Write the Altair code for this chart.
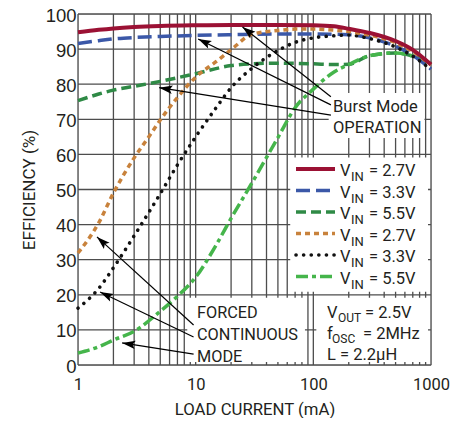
import math
import altair as alt
import pandas as pd

W, H = 353, 351
NARROW = "Roboto, Liberation Sans, sans-serif"
REG = "Liberation Sans, Arial, sans-serif"
TXT = "#231f20"

# ---------------- data ----------------
# Burst Mode operation
I_b27 = [1, 1.5, 2, 3, 5, 10, 20, 50, 100, 150, 200, 300, 500, 700, 1000]
E_b27 = [94.8, 95.5, 95.9, 96.3, 96.6, 96.8, 96.9, 96.9, 96.8, 96.5, 95.8, 94.6, 92.3, 89.8, 85.6]

I_b33 = [1, 1.5, 2, 3, 5, 10, 20, 50, 100, 200, 300, 500, 700, 1000]
E_b33 = [91.6, 92.4, 92.9, 93.3, 93.6, 93.9, 94.1, 94.3, 94.3, 94.1, 93.2, 90.8, 88.2, 84.3]

I_b55 = [1, 1.5, 2, 3, 5, 10, 20, 30, 50, 100, 150, 200, 300, 500, 700, 1000]
E_b55 = [75.3, 77.2, 78.3, 79.4, 80.8, 83.0, 85.3, 85.8, 86.0, 85.8, 85.6, 85.7, 88.1, 88.9, 88.0, 85.9]

# Forced continuous mode
I_f27 = [1, 1.5, 2, 3, 4, 5, 7, 10, 15, 20, 30, 50, 70, 100, 150, 200, 300, 500, 700, 1000]
E_f27 = [31.9, 40.5, 49.0, 59.0, 65.0, 69.8, 76.2, 82.0, 86.5, 89.8, 94.2, 95.3, 95.7, 95.7, 95.4, 95.0, 94.0, 91.8, 89.3, 85.5]

I_f33 = [1, 1.5, 2, 3, 4, 5, 7, 10, 15, 20, 30, 50, 70, 100, 150, 200, 300, 500, 700, 1000]
E_f33 = [16.2, 21.8, 27.7, 36.8, 43.5, 48.8, 57.0, 65.0, 73.4, 79.0, 84.5, 89.6, 91.9, 93.2, 93.8, 94.0, 93.0, 90.6, 88.0, 84.2]

I_f55 = [1, 1.5, 2, 3, 5, 7, 10, 15, 20, 30, 50, 70, 100, 150, 200, 300, 500, 700, 1000]
E_f55 = [3.4, 5.2, 7.1, 9.6, 15.3, 19.6, 25.0, 34.3, 41.8, 51.8, 64.8, 73.3, 78.6, 83.5, 85.6, 88.1, 88.9, 88.0, 85.9]

legend_labels = ["2.7V", "3.3V", "5.5V", "2.7V", "3.3V", "5.5V"]

x_ticks = [1, 10, 100, 1000]
y_ticks = [0, 10, 20, 30, 40, 50, 60, 70, 80, 90, 100]
grid_x = [1, 2, 3, 4, 5, 6, 7, 8, 9, 10, 20, 30, 40, 50, 60, 70, 80, 90,
          100, 200, 300, 400, 500, 600, 700, 800, 900, 1000]
grid_y = y_ticks

# annotation arrows (tail -> tip), in data units
arrow_tail_I = [141, 141, 141, 9.6, 9.6, 9.6]
arrow_tail_E = [76.4, 74.1, 71.2, 11.4, 8.0, 3.1]
arrow_tip_I = [25, 10.5, 4.9, 1.45, 1.54, 2.37]
arrow_tip_E = [96.3, 92.9, 79.0, 36.5, 20.8, 6.3]

# white label boxes: (I0, I1, E0, E1, inset)
box_I0 = [60, 100, 8, 135]
box_I1 = [1000, 1000, 90, 880]
box_E0 = [20, 0, 0, 64.7]
box_E1 = [60, 20, 20, 77.5]
box_inset = [3, 3, 3, 0]

# ---------------- chart ----------------
xs = alt.Scale(type="log", domain=[1, 1000])
ys = alt.Scale(domain=[0, 100])
xaxis = alt.Axis(values=x_ticks, title="LOAD CURRENT (mA)", grid=False, ticks=False,
                 domain=False, labelFont=NARROW, labelFontSize=16.5, labelColor=TXT,
                 labelPadding=11, labelFlush=False, titleFont=NARROW, titleFontSize=16.75,
                 titleFontWeight="normal", titleColor=TXT, titlePadding=9,
                 format="d")
yaxis = alt.Axis(values=y_ticks, title="EFFICIENCY (%)", grid=False, ticks=False,
                 domain=False, labelFont=REG, labelFontSize=18.5, labelColor=TXT,
                 labelPadding=2, labelFlush=False, labelBaseline="alphabetic",
                 labelOffset=7, titleFont=NARROW, titleFontSize=17,
                 titleFontWeight="normal", titleColor=TXT, titlePadding=7)


def X(f="I"):
    return alt.X(f"{f}:Q", scale=xs, axis=xaxis)


def Y(f="E"):
    return alt.Y(f"{f}:Q", scale=ys, axis=yaxis)


def px(i):
    return W * math.log10(i) / 3


def py(e):
    return H * (1 - e / 100)


one = pd.DataFrame({"a": [0]})
layers = []

# grid
layers.append(alt.Chart(pd.DataFrame({"I": grid_x})).mark_rule(
    color="#4d4d4d", strokeWidth=1.3).encode(x=X()))
layers.append(alt.Chart(pd.DataFrame({"E": grid_y})).mark_rule(
    color="#4d4d4d", strokeWidth=1.3).encode(y=Y()))

# white boxes
for i0, i1, e0, e1, ins in zip(box_I0, box_I1, box_E0, box_E1, box_inset):
    df = pd.DataFrame({"I": [i0], "I2": [i1], "E": [e0], "E2": [e1]})
    layers.append(alt.Chart(df).mark_rect(
        color="white", xOffset=ins, x2Offset=-ins, yOffset=-ins, y2Offset=ins
    ).encode(x=X(), x2="I2:Q", y=Y(), y2="E2:Q"))

series = [
    (I_b27, E_b27, "#9b1134", [1, 0], 4.0, "butt"),
    (I_b33, E_b33, "#3b58a8", [14, 6], 3.5, "butt"),
    (I_b55, E_b55, "#2f8a46", [10, 5], 3.5, "butt"),
    (I_f27, E_f27, "#c8823c", [5, 4], 3.5, "butt"),
    (I_f33, E_f33, "#111111", [0.1, 7.5], 3.6, "round"),
    (I_f55, E_f55, "#45b54b", [12, 4, 4, 4], 3.5, "butt"),
]
draw_order = [2, 5, 1, 4, 3, 0]
for k in draw_order:
    ii, ee, col, dash, sw, cap = series[k]
    df = pd.DataFrame({"I": ii, "E": ee})
    kw = dict(color=col, strokeWidth=sw, strokeCap=cap, interpolate="monotone")
    if dash != [1, 0]:
        kw["strokeDash"] = dash
    layers.append(alt.Chart(df).mark_line(**kw).encode(x=X(), y=Y()))

# arrows
arr = pd.DataFrame({"I": arrow_tail_I, "I2": arrow_tip_I,
                    "E": arrow_tail_E, "E2": arrow_tip_E})
layers.append(alt.Chart(arr).mark_rule(color="black", strokeWidth=1.2).encode(
    x=X(), x2="I2:Q", y=Y(), y2="E2:Q"))
angs = []
for ti, te, hi, he in zip(arrow_tail_I, arrow_tail_E, arrow_tip_I, arrow_tip_E):
    dx = px(hi) - px(ti)
    dy = py(he) - py(te)
    angs.append(math.degrees(math.atan2(dx, -dy)) % 360)
heads = pd.DataFrame({"I": arrow_tip_I, "E": arrow_tip_E, "ang": angs})
layers.append(alt.Chart(heads).mark_point(
    shape="M0,0L-0.32,1L0,0.8L0.32,1Z", size=700, filled=True, color="black",
    opacity=1, strokeWidth=0).encode(x=X(), y=Y(), angle=alt.Angle("ang:Q", scale=None)))


def txt(s, x, y, size=16.5, font=NARROW):
    return alt.Chart(one).mark_text(
        text=s, fontSize=size, font=font, align="left", baseline="alphabetic",
        color=TXT).encode(x=alt.value(x), y=alt.value(y))


# Burst Mode label
layers.append(txt("Burst Mode", 255, 98))
layers.append(txt("OPERATION", 255, 119))
# Forced continuous label
layers.append(txt("FORCED", 119, 304, 16.3))
layers.append(txt("CONTINUOUS", 119, 326, 16.3))
layers.append(txt("MODE", 119, 348, 16.3))
# conditions
layers.append(txt("V", 249, 304))
layers.append(txt("OUT", 260, 308, 12))
layers.append(txt("= 2.5V", 287, 304))
layers.append(txt("f", 249, 325))
layers.append(txt("OSC", 254, 329, 12))
layers.append(txt("= 2MHz", 285, 325))
layers.append(txt("L = 2.2\u03bcH", 249, 346))

# legend
for n, lab in enumerate(legend_labels):
    ii, ee, col, dash, sw, cap = series[n]
    yc = 155 + 21.5 * n
    kw = dict(color=col, strokeWidth=sw, strokeCap=cap)
    if dash != [1, 0]:
        kw["strokeDash"] = dash
    layers.append(alt.Chart(one).mark_rule(**kw).encode(
        x=alt.value(218), x2=alt.value(257), y=alt.value(yc), y2=alt.value(yc)))
    layers.append(txt("V", 262, yc + 7))
    layers.append(txt("IN", 273, yc + 12, 13))
    layers.append(txt("= " + lab, 291, yc + 7))

chart = alt.layer(*layers).properties(
    width=W, height=H,
    autosize=alt.AutoSizeParams(type="none"),
    padding={"left": 70, "top": 6, "right": 27, "bottom": 53},
).configure_view(stroke="black", strokeWidth=2).configure(background="white")

chart.save("out.html", embed_options={"renderer": "svg", "actions": False})
